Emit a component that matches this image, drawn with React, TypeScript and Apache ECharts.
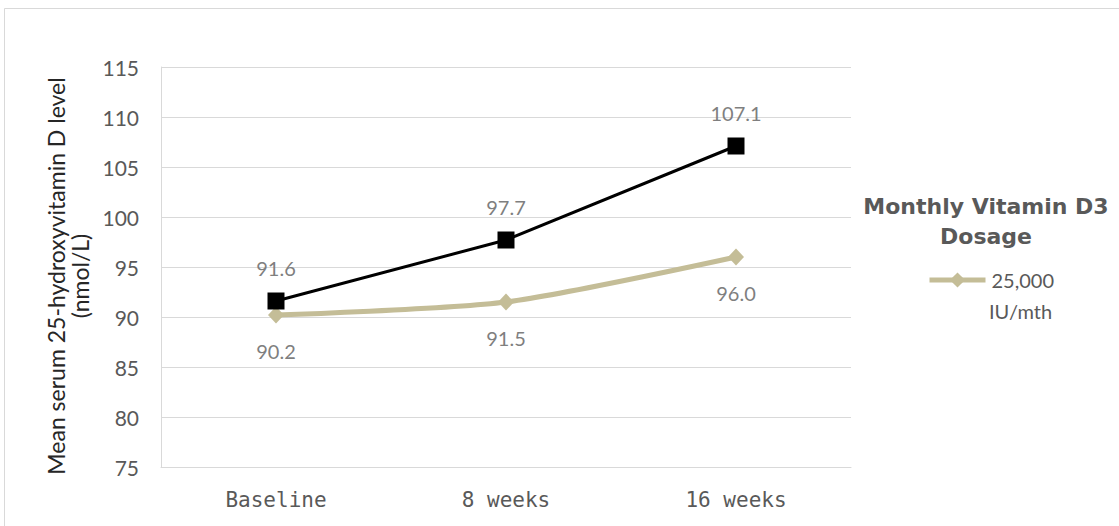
import React, { useEffect, useRef } from "react";
import * as echarts from "echarts";

const categories = ["Baseline", "8 weeks", "16 weeks"];
const highDose = [91.6, 97.7, 107.1];
const lowDose = [90.2, 91.5, 96.0];
const yTicks = { min: 75, max: 115, interval: 5 };
const legendTitle = "Monthly Vitamin D3\nDosage";
const lowName = "25,000 IU/mth";
const lowNameLines = ["25,000", "IU/mth"];

export default function App() {
  const ref = useRef<HTMLDivElement>(null);
  useEffect(() => {
    const chart = echarts.init(ref.current!, null, { renderer: "svg" });
    chart.setOption({
      animation: false,
      backgroundColor: "#ffffff",
      textStyle: { fontFamily: "Lato, 'Open Sans', sans-serif" },
      grid: { left: 161, right: 268, top: 67, bottom: 59, containLabel: false },
      graphic: [
        {
          type: "rect",
          shape: { x: 4.5, y: 8.5, width: 1200, height: 600 },
          style: { fill: "none", stroke: "#d9d9d9", lineWidth: 1 },
          silent: true,
        },
        {
          type: "text",
          x: 986,
          y: 191,
          style: {
            text: legendTitle,
            align: "center",
            verticalAlign: "top",
            fill: "#595959",
            font: "bold 22px 'DejaVu Sans', sans-serif",
            lineHeight: 30,
          },
        },
        {
          type: "text",
          x: 989,
          y: 311,
          style: {
            text: lowNameLines[1],
            align: "left",
            verticalAlign: "middle",
            fill: "#595959",
            font: "20px Lato, sans-serif",
          },
        },
      ],
      legend: {
        data: [lowName],
        left: 927,
        top: 268,
        padding: 0,
        itemWidth: 56,
        itemHeight: 19,
        itemGap: 0,
        lineStyle: { width: 5 },
        formatter: () => lowNameLines[0],
        textStyle: { color: "#595959", fontSize: 20, lineHeight: 24, fontFamily: "Lato, sans-serif", padding: [0, 0, 0, 1] },
      },
      xAxis: {
        type: "category",
        data: categories,
        boundaryGap: true,
        axisLine: { lineStyle: { color: "#d9d9d9", width: 1 } },
        axisTick: { show: false },
        axisLabel: {
          color: "#595959",
          fontSize: 21,
          margin: 22,
          fontFamily: "'DejaVu Sans Mono', monospace",
        },
      },
      yAxis: {
        type: "value",
        min: yTicks.min,
        max: yTicks.max,
        interval: yTicks.interval,
        name: "Mean serum 25-hydroxyvitamin D level\n(nmol/L)",
        nameLocation: "middle",
        nameRotate: 90,
        nameGap: 66,
        nameTextStyle: {
          color: "#262626",
          fontSize: 23,
          lineHeight: 24,
          fontFamily: "Lato, sans-serif",
          padding: [0, 18, 0, 0],
        },
        axisLine: { show: true, lineStyle: { color: "#d9d9d9", width: 1 } },
        axisTick: { show: false },
        splitLine: { lineStyle: { color: "#d9d9d9", width: 1 } },
        axisLabel: { color: "#595959", fontSize: 21, margin: 22, fontFamily: "Lato, sans-serif" },
      },
      series: [
        {
          name: "High dose",
          type: "line",
          data: highDose,
          symbol: "rect",
          symbolSize: 17,
          lineStyle: { color: "#000000", width: 3 },
          itemStyle: { color: "#000000" },
          label: {
            show: true,
            position: "top",
            distance: 15,
            color: "#7f7f7f",
            fontSize: 20,
            formatter: (p: any) => p.value.toFixed(1),
          },
          z: 3,
        },
        {
          name: lowName,
          type: "line",
          data: lowDose,
          smooth: 0.25,
          symbol: "diamond",
          symbolSize: [16, 17],
          lineStyle: { color: "#c4bd97", width: 5 },
          itemStyle: { color: "#c4bd97" },
          label: {
            show: true,
            position: "bottom",
            distance: 17,
            color: "#7f7f7f",
            fontSize: 20,
            formatter: (p: any) => p.value.toFixed(1),
          },
          z: 2,
        },
      ],
    });
    return () => chart.dispose();
  }, []);
  return <div ref={ref} style={{ width: 1119, height: 526, position: "absolute", left: 0, top: 0 }} />;
}
